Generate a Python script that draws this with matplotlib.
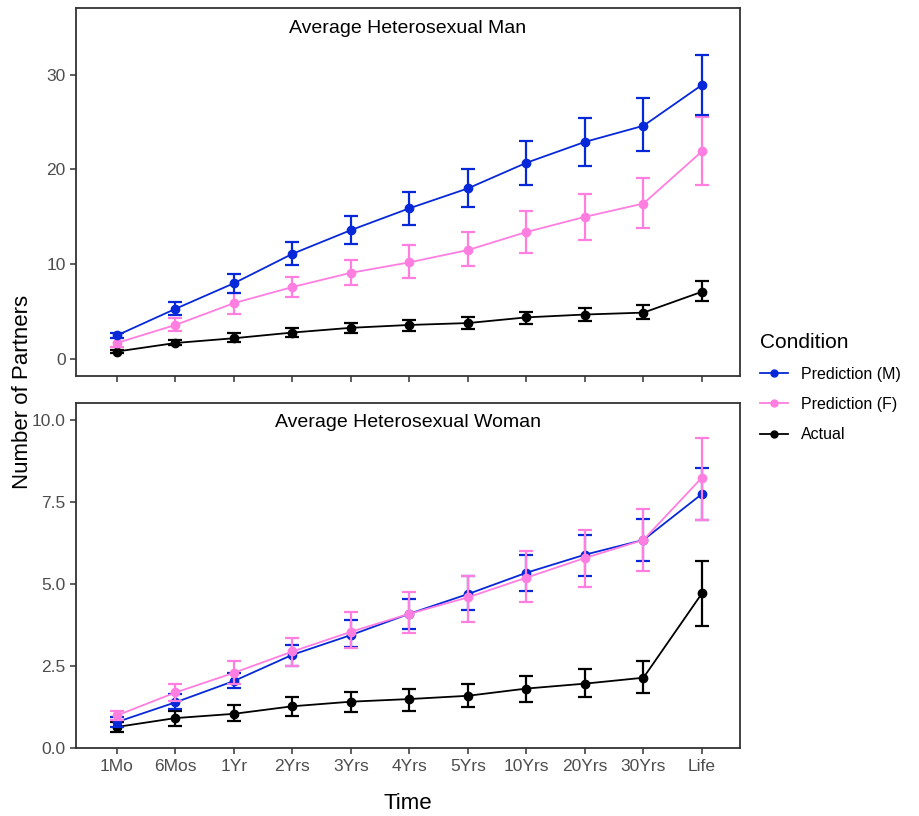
import matplotlib
matplotlib.use("Agg")
import matplotlib.pyplot as plt
import numpy as np
from matplotlib.lines import Line2D

plt.rcParams["font.family"] = ["Liberation Sans", "DejaVu Sans"]

times = ["1Mo", "6Mos", "1Yr", "2Yrs", "3Yrs", "4Yrs", "5Yrs", "10Yrs", "20Yrs", "30Yrs", "Life"]

# Average heterosexual man
man_pred_m = [2.5, 5.3, 8.0, 11.1, 13.6, 15.9, 18.0, 20.7, 22.9, 24.6, 28.9]
man_pred_m_lo = [2.2, 4.7, 7.0, 9.9, 12.1, 14.1, 16.0, 18.4, 20.4, 21.9, 25.7]
man_pred_m_hi = [2.8, 6.0, 9.0, 12.3, 15.1, 17.6, 20.0, 23.0, 25.4, 27.5, 32.1]
man_pred_f = [1.7, 3.6, 5.9, 7.6, 9.1, 10.2, 11.5, 13.4, 15.0, 16.4, 21.9]
man_pred_f_lo = [1.3, 3.0, 4.8, 6.6, 7.8, 8.6, 9.8, 11.2, 12.6, 13.8, 18.4]
man_pred_f_hi = [2.2, 4.3, 7.0, 8.7, 10.4, 12.0, 13.4, 15.6, 17.4, 19.1, 25.5]
man_actual = [0.8, 1.7, 2.2, 2.8, 3.3, 3.6, 3.8, 4.4, 4.7, 4.9, 7.1]
man_actual_lo = [0.6, 1.5, 1.8, 2.3, 2.8, 3.0, 3.2, 3.7, 4.0, 4.2, 6.1]
man_actual_hi = [1.0, 2.0, 2.7, 3.3, 3.8, 4.1, 4.4, 5.0, 5.4, 5.7, 8.2]

# Average heterosexual woman
wom_pred_m = [0.8, 1.4, 2.05, 2.85, 3.45, 4.1, 4.7, 5.35, 5.9, 6.35, 7.75]
wom_pred_m_lo = [0.65, 1.2, 1.85, 2.5, 3.1, 3.65, 4.2, 4.8, 5.25, 5.7, 6.95]
wom_pred_m_hi = [0.95, 1.65, 2.3, 3.15, 3.9, 4.55, 5.25, 5.9, 6.5, 7.0, 8.55]
wom_pred_f = [1.0, 1.7, 2.3, 2.95, 3.55, 4.1, 4.6, 5.2, 5.8, 6.35, 8.25]
wom_pred_f_lo = [0.85, 1.45, 1.95, 2.5, 3.05, 3.5, 3.85, 4.45, 4.9, 5.4, 6.95]
wom_pred_f_hi = [1.15, 1.95, 2.65, 3.35, 4.15, 4.75, 5.25, 6.0, 6.65, 7.3, 9.45]
wom_actual = [0.65, 0.92, 1.05, 1.28, 1.42, 1.5, 1.6, 1.82, 1.97, 2.15, 4.72]
wom_actual_lo = [0.5, 0.68, 0.83, 0.97, 1.1, 1.15, 1.25, 1.42, 1.55, 1.68, 3.72]
wom_actual_hi = [0.8, 1.15, 1.33, 1.55, 1.72, 1.82, 1.95, 2.2, 2.42, 2.65, 5.72]

BLUE = "#0628d8"
PINK = "#ff7ee0"
BLACK = "#000000"
TICK_GREY = "#4d4d4d"

x = np.arange(len(times))

fig = plt.figure(figsize=(9.2, 8.16), dpi=100)
ax_top = fig.add_axes([0.0826, 0.539, 0.7217, 0.451])
ax_bot = fig.add_axes([0.0826, 0.083, 0.7217, 0.423])


def draw_series(ax, mean, lo, hi, color, zorder):
    mean = np.array(mean)
    yerr = [mean - np.array(lo), np.array(hi) - mean]
    ax.errorbar(x, mean, yerr=yerr, color=color, ecolor=color, lw=1.3,
                elinewidth=1.6, capsize=5, capthick=1.6, marker="o",
                markersize=6, zorder=zorder)


def style_axes(ax, ylim, yticks, yticklabels, title):
    ax.set_xlim(-0.7, 10.65)
    ax.set_ylim(*ylim)
    ax.set_yticks(yticks)
    ax.set_yticklabels(yticklabels, color=TICK_GREY, fontsize=12.5)
    ax.set_xticks(x)
    for s in ax.spines.values():
        s.set_linewidth(1.3)
        s.set_color("#333333")
    ax.tick_params(axis="both", length=4, width=1.1, color="#333333")
    ax.text(0.5, 0.968, title, transform=ax.transAxes, ha="center", va="top",
            fontsize=14)


draw_series(ax_top, man_actual, man_actual_lo, man_actual_hi, BLACK, 3)
draw_series(ax_top, man_pred_f, man_pred_f_lo, man_pred_f_hi, PINK, 4)
draw_series(ax_top, man_pred_m, man_pred_m_lo, man_pred_m_hi, BLUE, 5)
style_axes(ax_top, (-1.8, 37), [0, 10, 20, 30], ["0", "10", "20", "30"],
           "Average Heterosexual Man")
ax_top.set_xticklabels([])

draw_series(ax_bot, wom_actual, wom_actual_lo, wom_actual_hi, BLACK, 3)
draw_series(ax_bot, wom_pred_m, wom_pred_m_lo, wom_pred_m_hi, BLUE, 4)
draw_series(ax_bot, wom_pred_f, wom_pred_f_lo, wom_pred_f_hi, PINK, 5)
style_axes(ax_bot, (0, 10.52), [0, 2.5, 5.0, 7.5, 10.0],
           ["0.0", "2.5", "5.0", "7.5", "10.0"], "Average Heterosexual Woman")
ax_bot.set_xticklabels(times, color=TICK_GREY, fontsize=12.5)

fig.text(0.024, 0.52, "Number of Partners", rotation=90, ha="center",
         va="center", fontsize=16)
fig.text(0.443, 0.015, "Time", ha="center", va="center", fontsize=16)

handles = [Line2D([], [], color=c, marker="o", markersize=5, lw=1.3)
           for c in (BLUE, PINK, BLACK)]
leg = fig.legend(handles, ["Prediction (M)", "Prediction (F)", "Actual"],
                 title="Condition", loc="upper left",
                 bbox_to_anchor=(0.81, 0.61), frameon=False, fontsize=11.5,
                 title_fontsize=15, handlelength=1.8, labelspacing=0.95,
                 alignment="left")

fig.savefig("out.png", dpi=100)
